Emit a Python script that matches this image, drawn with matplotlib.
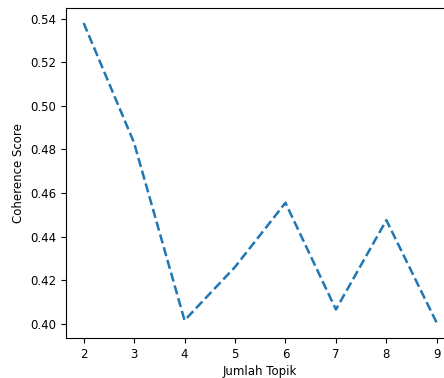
import matplotlib.pyplot as plt

jumlah_topik = [2, 3, 4, 5, 6, 7, 8, 9]
coherence = [0.538, 0.483, 0.4015, 0.426, 0.4555, 0.4065, 0.4475, 0.4003]

plt.rcParams['font.size'] = 8.5

fig = plt.figure(figsize=(4.44, 3.78), dpi=100)
ax = fig.add_axes([0.1486, 0.1058, 0.875, 0.873])
ax.plot(jumlah_topik, coherence, linestyle='--', linewidth=1.8, color='#1f77b4')
ax.set_xlabel('Jumlah Topik', labelpad=3)
ax.set_ylabel('Coherence Score')
ax.set_xticks(jumlah_topik)
plt.savefig('out.png', dpi=100)
